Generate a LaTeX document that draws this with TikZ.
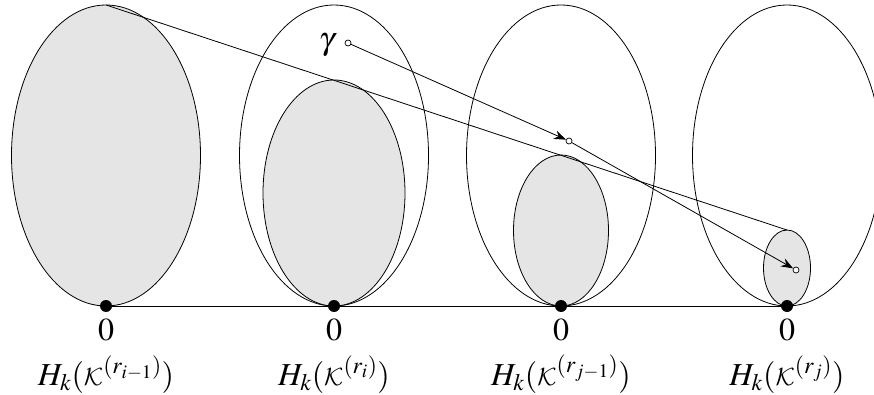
\documentclass[tikz,border=0pt]{standalone}
\usepackage{mathptmx}
\DeclareMathAlphabet{\mathcal}{OMS}{cmsy}{m}{n}
\usetikzlibrary{shapes.geometric,arrows.meta}
\begin{document}
\begin{tikzpicture}[x=1pt,y=-1pt,line width=0.8pt,
  ell/.style={draw,ellipse,inner sep=0pt,outer sep=0pt},
  outerell/.style={ell,minimum width=189pt,minimum height=301pt},
  grayell/.style={ell,fill=gray!20},
  dot/.style={circle,fill=black,inner sep=0pt,minimum size=12pt},
  pt/.style={circle,draw,fill=white,inner sep=0pt,minimum size=6pt,line width=0.7pt},
  lab/.style={font=\fontsize{32}{38}\selectfont,anchor=base,inner sep=0pt},
  arr/.style={-{Stealth[length=12pt,width=9pt,inset=4pt]}}]
\useasboundingbox (0,0) rectangle (874,395);
% outer ellipses
\node[outerell,fill=gray!20] (e1) at (106,155.5) {};
\node[outerell] (e2) at (334,155.5) {};
\node[outerell] (e3) at (561,155.5) {};
\node[outerell] (e4) at (787,155.5) {};
% inner gray ellipses
\node[grayell,minimum width=142pt,minimum height=226pt] (s2) at (334,193) {};
\node[grayell,minimum width=95pt,minimum height=151pt] (s3) at (561,230.5) {};
\node[grayell,minimum width=47pt,minimum height=76pt] (s4) at (787,268) {};
% base line and dots
\node[dot] (d1) at (106,306) {};
\node[dot] (d2) at (334,306) {};
\node[dot] (d3) at (561,306) {};
\node[dot] (d4) at (787,306) {};
\draw (d1) -- (d4);
% cone line
\draw (e1.north) -- (s4.north);
% points and arrows
\node[pt] (g) at (348,43) {};
\node[lab,anchor=base east] (gl) at (335,50) {$\gamma$};
\node[pt] (m) at (569,141) {};
\node[pt] (p) at (796,270) {};
\draw[arr] (g) -- (m);
\draw[arr] (m) -- (p);
% labels
\node[lab] (z1) at (106,340) {$0$};
\node[lab] (z2) at (334,340) {$0$};
\node[lab] (z3) at (561,340) {$0$};
\node[lab] (z4) at (787,340) {$0$};
\node[lab] (l1) at (106,385) {$H_k(\mathcal{K}^{(r_{i-1})})$};
\node[lab] (l2) at (334,385) {$H_k(\mathcal{K}^{(r_{i})})$};
\node[lab] (l3) at (561,385) {$H_k(\mathcal{K}^{(r_{j-1})})$};
\node[lab] (l4) at (787,385) {$H_k(\mathcal{K}^{(r_{j})})$};
\end{tikzpicture}
\end{document}
